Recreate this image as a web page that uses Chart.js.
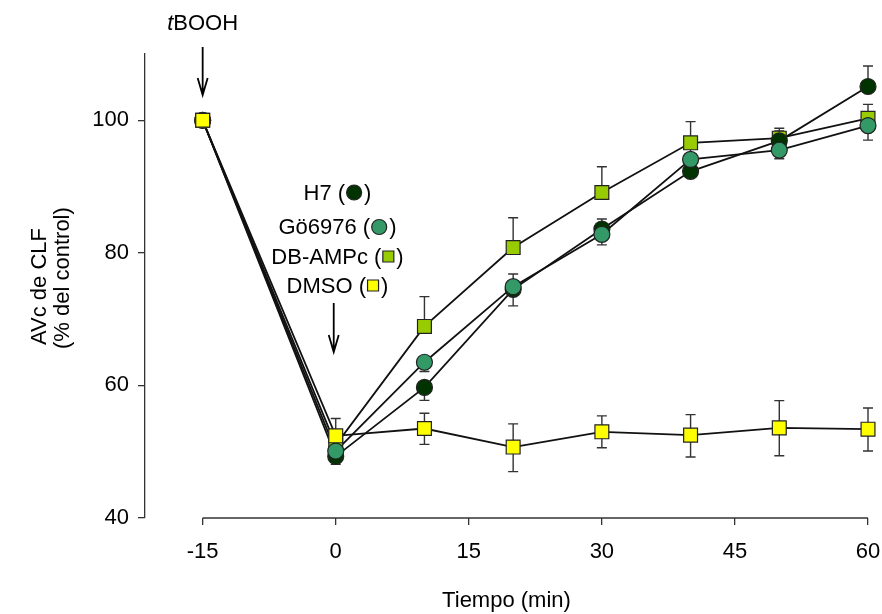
<!DOCTYPE html>
<html>
<head>
<meta charset="utf-8">
<script src="https://cdn.jsdelivr.net/npm/chart.js@4/dist/chart.umd.min.js"></script>
<style>
html,body{margin:0;padding:0;background:#fff;}
#c{display:block;}
</style>
</head>
<body>
<canvas id="c" width="882" height="614"></canvas>
<script>
// ---- data ----
const times = [-15, 0, 10, 20, 30, 40, 50, 60];
const xTicks = [-15, 0, 15, 30, 45, 60];
const yTicks = [40, 60, 80, 100];

const seriesNames = ['H7', 'Gö6976', 'DB-AMPc', 'DMSO'];
const yTitleLines = ['AVc de CLF', '(% del control)'];
const xTitle = 'Tiempo (min)';

const h7     = [100, 49.3, 59.7, 74.5, 83.6, 92.3, 96.9, 105.1];
const go6976 = [100, 50.1, 63.5, 74.9, 82.8, 94.1, 95.5, 99.2];
const dbampc = [100, 51.0, 68.9, 80.8, 89.1, 96.6, 97.3, 100.3];
const dmso   = [100, 52.4, 53.5, 50.7, 53.0, 52.5, 53.6, 53.4];

// error bars (0 = not drawn)
const h7Up       = [0, 0,   0,   0,   1.5, 0,   1.9, 3.1];
const h7Down     = [0, 1.2, 1.95,2.5, 0,   0,   0,   0];
const go6976Up   = [0, 0,   0,   1.9, 0,   2.0, 0,   0];
const go6976Down = [0, 0,   1.4, 0,   1.6, 0,   1.3, 2.2];
const dbampcUp   = [0, 0,   4.5, 4.5, 3.9, 3.2, 1.1, 2.1];
const dbampcDown = [0, 0,   0,   0,   0,   0,   0,   0];
const dmsoUp     = [0, 2.6, 2.3, 3.5, 2.4, 3.1, 4.1, 3.2];
const dmsoDown   = [0, 0,   2.4, 3.7, 2.4, 3.3, 4.2, 3.3];

// ---- styles ----
const FONT = "'Liberation Sans', Arial, sans-serif";
const series = [
  {name: seriesNames[0], vals: h7,     up: h7Up,     down: h7Down,     fill: '#003300', style: 'circle', order: 3},
  {name: seriesNames[1], vals: go6976, up: go6976Up, down: go6976Down, fill: '#339966', style: 'circle', order: 2},
  {name: seriesNames[2], vals: dbampc, up: dbampcUp, down: dbampcDown, fill: '#99cc00', style: 'rect',   order: 4},
  {name: seriesNames[3], vals: dmso,   up: dmsoUp,   down: dmsoDown,   fill: '#ffff00', style: 'rect',   order: 1}
];

const toPts = vals => times.map((t, i) => ({x: t, y: vals[i]}));

const datasets = [];
series.forEach(s => {
  datasets.push({
    label: s.name + ' line', data: toPts(s.vals), showLine: true,
    borderColor: '#111', borderWidth: 1.8, pointRadius: 0, order: 10, clip: false
  });
});
series.forEach(s => {
  datasets.push({
    label: s.name, data: toPts(s.vals), showLine: false,
    pointStyle: s.style, pointRadius: s.style === 'rect' ? 9.8 : 8,
    pointBackgroundColor: s.fill, pointBorderColor: '#222', pointBorderWidth: 1.2,
    order: s.order, clip: false
  });
});

const errorBars = {
  id: 'errorBars',
  beforeDatasetsDraw(chart) {
    const {ctx, scales: {x, y}} = chart;
    ctx.save();
    ctx.strokeStyle = '#333';
    ctx.lineWidth = 1.4;
    series.forEach(s => {
      times.forEach((t, i) => {
        const px = x.getPixelForValue(t);
        const py = y.getPixelForValue(s.vals[i]);
        [[s.up[i], 1], [s.down[i], -1]].forEach(([e, dir]) => {
          if (!e) return;
          const ey = y.getPixelForValue(s.vals[i] + dir * e);
          ctx.beginPath();
          ctx.moveTo(px, py); ctx.lineTo(px, ey);
          ctx.moveTo(px - 5, ey); ctx.lineTo(px + 5, ey);
          ctx.stroke();
        });
      });
    });
    ctx.restore();
  }
};

function arrow(ctx, x, y1, y2) {
  ctx.beginPath();
  ctx.moveTo(x, y1); ctx.lineTo(x, y2);
  ctx.moveTo(x - 5, y2 - 17); ctx.lineTo(x, y2); ctx.lineTo(x + 5, y2 - 17);
  ctx.stroke();
}

const annotations = {
  id: 'annotations',
  afterDraw(chart) {
    const {ctx, scales: {x, y}} = chart;
    ctx.save();
    // x axis line from first to last tick
    ctx.strokeStyle = '#333';
    ctx.lineWidth = 1.3;
    ctx.beginPath();
    ctx.moveTo(x.getPixelForValue(xTicks[0]), y.bottom);
    ctx.lineTo(x.getPixelForValue(xTicks[xTicks.length - 1]), y.bottom);
    ctx.stroke();

    // y axis title (two lines, start-aligned)
    ctx.save();
    ctx.fillStyle = '#000';
    ctx.font = '22px ' + FONT;
    ctx.textAlign = 'left';
    ctx.textBaseline = 'middle';
    ctx.translate(40, 345);
    ctx.rotate(-Math.PI / 2);
    ctx.fillText(yTitleLines[0], 0, 0);
    ctx.fillText(yTitleLines[1], -4, 23);
    ctx.restore();

    // arrows
    ctx.strokeStyle = '#000';
    ctx.lineWidth = 1.8;
    arrow(ctx, x.getPixelForValue(-15), 47, 95);
    arrow(ctx, x.getPixelForValue(0) - 2, 303, 352);

    // tBOOH label
    ctx.fillStyle = '#000';
    ctx.textBaseline = 'alphabetic';
    ctx.font = 'italic 22px ' + FONT;
    const wt = ctx.measureText('t').width;
    ctx.font = '22px ' + FONT;
    const wb = ctx.measureText('BOOH').width;
    const cx = x.getPixelForValue(-15);
    let sx = cx - (wt + wb) / 2;
    ctx.textAlign = 'left';
    ctx.font = 'italic 22px ' + FONT;
    ctx.fillText('t', sx, 30);
    ctx.font = '22px ' + FONT;
    ctx.fillText('BOOH', sx + wt, 30);

    // legend
    const rowsY = [192.5, 227, 256.5, 285.5];
    const centerX = 337.5;
    series.forEach((s, i) => {
      ctx.font = '22px ' + FONT;
      ctx.textBaseline = 'middle';
      const a = s.name + ' (';
      const wa = ctx.measureText(a).width;
      const wc = ctx.measureText(')').width;
      const mw = s.style === 'circle' ? 16 : 12;
      const total = wa + mw + 3 + wc;
      let lx = centerX - total / 2;
      ctx.fillStyle = '#000';
      ctx.fillText(a, lx, rowsY[i] + 1);
      const mx = lx + wa + 1 + mw / 2;
      ctx.fillStyle = s.fill;
      ctx.strokeStyle = '#222';
      ctx.lineWidth = 1.2;
      ctx.beginPath();
      if (s.style === 'circle') {
        ctx.arc(mx, rowsY[i], 7.5, 0, Math.PI * 2);
      } else {
        ctx.rect(mx - 5.5, rowsY[i] - 5.5, 11, 11);
      }
      ctx.fill(); ctx.stroke();
      ctx.fillStyle = '#000';
      ctx.fillText(')', lx + wa + mw + 3, rowsY[i] + 1);
    });
    ctx.restore();
  }
};

new Chart(document.getElementById('c'), {
  type: 'scatter',
  data: {datasets},
  options: {
    responsive: false,
    animation: false,
    devicePixelRatio: 1,
    layout: {padding: {left: 0, top: 54, right: 14, bottom: 0}},
    plugins: {legend: {display: false}, tooltip: {enabled: false}},
    scales: {
      x: {
        type: 'linear', min: -21.5, max: 60,
        afterBuildTicks: s => { s.ticks = xTicks.map(v => ({value: v})); },
        afterFit: s => { s.height = 96; s.paddingLeft = 0; s.paddingRight = 0; },
        border: {display: false},
        grid: {drawOnChartArea: false, drawTicks: true, tickLength: 7, color: '#333', lineWidth: 1.3},
        ticks: {padding: 14, color: '#000', font: {size: 22, family: FONT}, maxRotation: 0, autoSkip: false,
                callback: v => String(v)},
        title: {display: true, text: xTitle, color: '#000', font: {size: 22, family: FONT},
                padding: {top: 0, bottom: 0}}
      },
      y: {
        min: 40, max: 110,
        afterBuildTicks: s => { s.ticks = yTicks.map(v => ({value: v})); },
        afterFit: s => { s.width = 145; s.paddingTop = 0; s.paddingBottom = 0; },
        border: {display: true, color: '#333', width: 1.3},
        grid: {drawOnChartArea: false, drawTicks: true, tickLength: 7, color: '#333', lineWidth: 1.3},
        ticks: {padding: 9, color: '#000', font: {size: 22, family: FONT}, callback: v => String(v)},
        title: {display: false}
      }
    }
  },
  plugins: [errorBars, annotations]
});
</script>
</body>
</html>
